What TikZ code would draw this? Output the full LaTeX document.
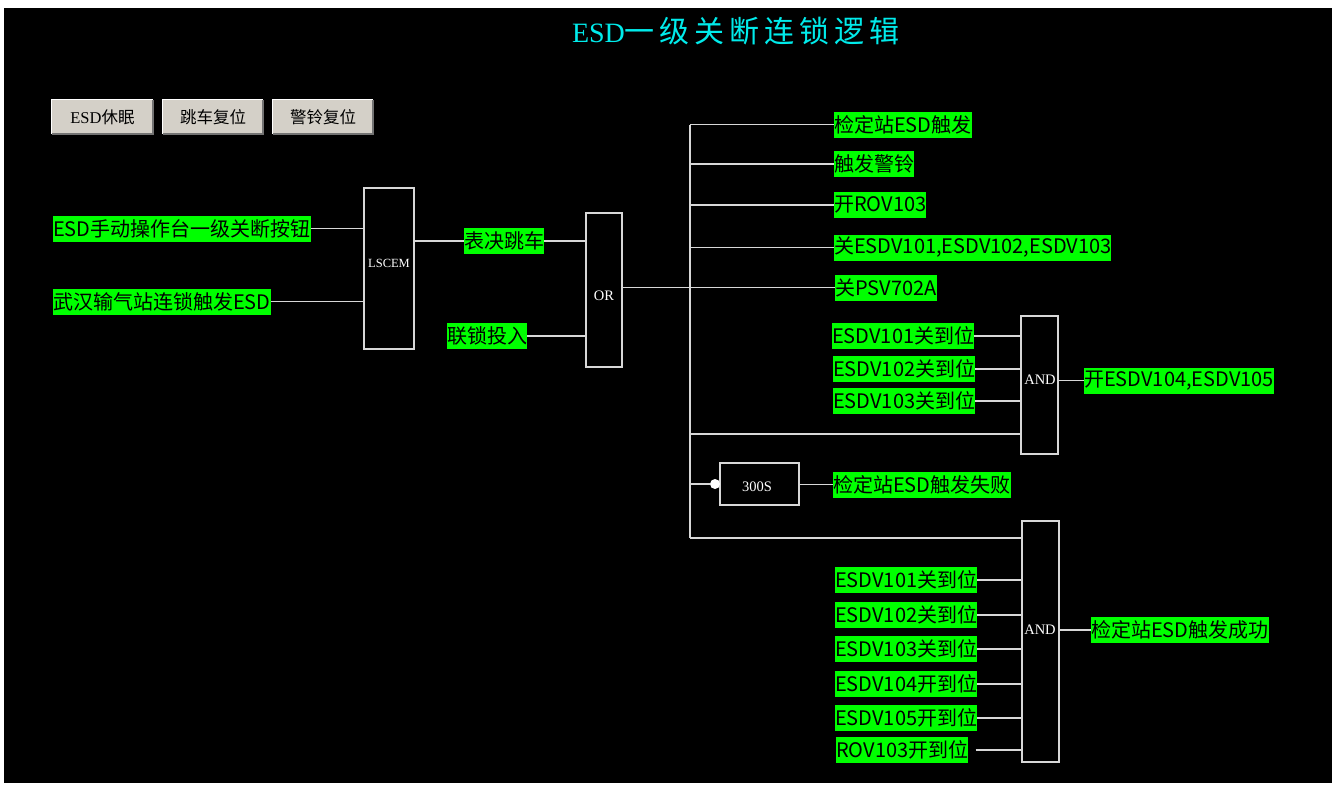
\documentclass[tikz,border=0pt]{standalone}
\usepackage{fontspec}
\newfontfamily\cjk{Noto Sans CJK SC}
\newfontfamily\ser{Liberation Serif}
\definecolor{lblgreen}{RGB}{0,255,0}
\definecolor{wirec}{RGB}{215,215,215}
\definecolor{ttlc}{RGB}{0,235,235}
\definecolor{btnc}{RGB}{212,208,200}
\newcommand\tsp{\hspace{5pt}}
\tikzset{
  lbl/.style={fill=lblgreen, text=black, font=\cjk\fontsize{20}{24}\selectfont, inner xsep=0pt, inner ysep=0pt, minimum height=26pt, anchor=west},
  gatebox/.style={draw=wirec, line width=1.3pt, inner sep=0pt},
  gtext/.style={text=white, font=\ser\fontsize{14.5}{17}\selectfont, inner sep=0pt},
  wire/.style={draw=wirec, line width=1.3pt},
  btnbox/.style={fill=btnc, inner sep=0pt, minimum height=34pt, font=\cjk\fontsize{16.5}{18}\selectfont, text=black},
}
\begin{document}
\begin{tikzpicture}[x=1pt,y=-1pt]
\useasboundingbox (0,0) rectangle (1332,785);
\fill[white] (0,0) rectangle (1332,785);
\fill[black] (4,8) rectangle (1332,783);

% title
\node[text=ttlc, inner sep=0pt] (title) at (736,31) {{\ser\fontsize{28}{32}\selectfont ESD}{\cjk\fontsize{30}{34}\selectfont 一\tsp 级\tsp 关\tsp 断\tsp 连\tsp 锁\tsp 逻\tsp 辑}};

% buttons
\node[btnbox, minimum width=101pt] (bt1) at (102.5,117) {{\ser ESD}休眠};
\node[btnbox, minimum width=100pt] (bt2) at (213,117) {跳车复位};
\node[btnbox, minimum width=100pt] (bt3) at (323,117) {警铃复位};
\foreach \b in {bt1,bt2,bt3}{
  \draw[white, line width=1pt] (\b.south west) -- (\b.north west) -- (\b.north east);
  \draw[black!55, line width=1.5pt] (\b.north east) -- (\b.south east) -- (\b.south west);
}

% gates
\node[gatebox, minimum width=50pt, minimum height=161pt] (lscem) at (389,268.5) {};
\node[gtext, font=\ser\fontsize{12.5}{15}\selectfont] (lscemt) at (389,263) {LSCEM};
\node[gatebox, minimum width=36pt, minimum height=154pt] (orb) at (604,290) {};
\node[gtext] (ort) at (604,296) {OR};
\node[gatebox, minimum width=37pt, minimum height=138pt] (and1) at (1039.5,385) {};
\node[gtext] (and1t) at (1040,380) {AND};
\node[gatebox, minimum width=37pt, minimum height=241pt] (and2) at (1040.5,641.5) {};
\node[gtext] (and2t) at (1040,630) {AND};
\node[gatebox, minimum width=79pt, minimum height=42pt] (tmr) at (759.5,484) {};
\node[gtext] (tmrt) at (757,487) {300S};

% labels
\node[lbl] (in1) at (53,228.5) {ESD手动操作台一级关断按钮};
\node[lbl] (in2) at (53,301.5) {武汉输气站连锁触发ESD};
\node[lbl] (vote) at (464,241) {表决跳车};
\node[lbl] (lock) at (447,336) {联锁投入};
\node[lbl] (o1) at (834,124.5) {检定站ESD触发};
\node[lbl] (o2) at (834,164) {触发警铃};
\node[lbl] (o3) at (834,205) {开ROV103};
\node[lbl] (o4) at (834,247.5) {关ESDV101,ESDV102,ESDV103};
\node[lbl] (o5) at (835,287.5) {关PSV702A};
\node[lbl] (a1i1) at (832,336) {ESDV101关到位};
\node[lbl] (a1i2) at (833,369) {ESDV102关到位};
\node[lbl] (a1i3) at (833,401) {ESDV103关到位};
\node[lbl] (a1o) at (1084,380.5) {开ESDV104,ESDV105};
\node[lbl] (fail) at (833,484.5) {检定站ESD触发失败};
\node[lbl] (a2i1) at (835,580) {ESDV101关到位};
\node[lbl] (a2i2) at (835,615) {ESDV102关到位};
\node[lbl] (a2i3) at (835,649) {ESDV103关到位};
\node[lbl] (a2i4) at (835,684) {ESDV104开到位};
\node[lbl] (a2i5) at (835,718) {ESDV105开到位};
\node[lbl] (a2i6) at (836,750) {ROV103开到位};
\node[lbl] (a2o) at (1091,630) {检定站ESD触发成功};

% wiring
\draw[wire] (in1.east) -- (in1.east -| lscem.west);
\draw[wire] (in2.east) -- (in2.east -| lscem.west);
\draw[wire] (lscem.east |- vote.west) -- (vote.west);
\draw[wire] (vote.east) -- (vote.east -| orb.west);
\draw[wire] (lock.east) -- (lock.east -| orb.west);
\draw[wire] (orb.east |- o5.west) -- (o5.west);

\coordinate (bustop) at (690,124.5);
\coordinate (busbot) at (690,538);
\coordinate (j1) at (690,434);
\coordinate (j2) at (690,484);
\draw[wire] (bustop) -- (busbot);
\foreach \o in {o1,o2,o3,o4}{\draw[wire] (bustop |- \o.west) -- (\o.west);}

\foreach \i in {a1i1,a1i2,a1i3}{\draw[wire] (\i.east) -- (\i.east -| and1.west);}
\draw[wire] (j1) -- (j1 -| and1.west);
\draw[wire] (and1.east |- a1o.west) -- (a1o.west);

\node[circle, fill=white, inner sep=0pt, minimum size=10pt] (dot) at (715,484) {};
\draw[wire] (j2) -- (dot);
\draw[wire] (tmr.east |- fail.west) -- (fail.west);

\draw[wire] (busbot) -- (busbot -| and2.west);
\foreach \i in {a2i1,a2i2,a2i3,a2i4,a2i5}{\draw[wire] (\i.east) -- (\i.east -| and2.west);}
\draw[wire] ([xshift=7pt]a2i6.east) -- (a2i6.east -| and2.west);
\draw[wire] (and2.east |- a2o.west) -- (a2o.west);
\end{tikzpicture}
\end{document}
